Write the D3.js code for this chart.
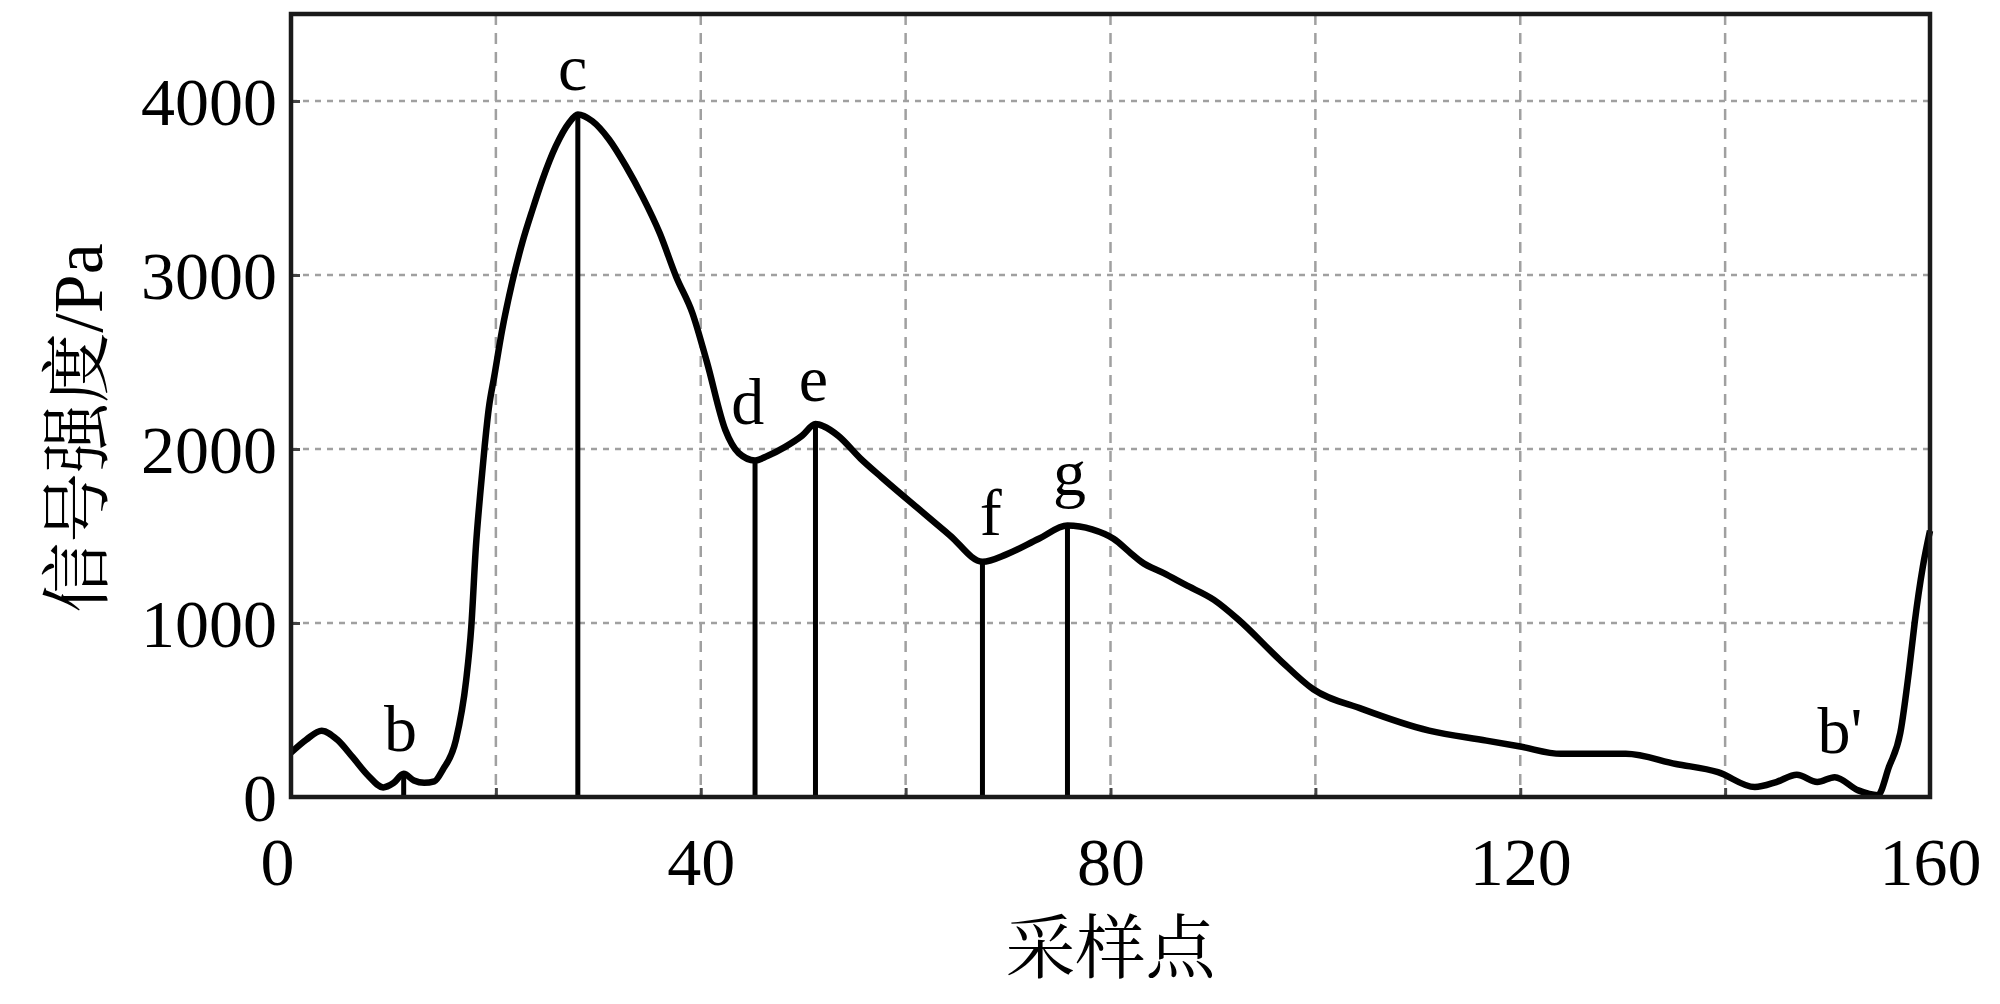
<!DOCTYPE html>
<html>
<head>
<meta charset="utf-8">
<script src="https://cdn.jsdelivr.net/npm/d3@7"></script>
<style>
body { margin: 0; background: #fff; }
svg { display: block; }
</style>
</head>
<body>
<script>
// sampling point index and signal strength (Pa)
const sampleX = [0, 1.5, 3, 4.5, 6, 7.5, 9, 10, 11, 12, 13, 14, 14.8, 16.1, 17.1, 17.6, 18.05, 18.5, 18.9, 19.3, 19.85,
    20.6, 21.6, 22.6, 23.6, 24.55, 25.85, 27.15, 28, 29.4, 31.05, 32.7, 34.3, 36, 37.6, 39.2, 40.6, 42.4, 43.7, 45.3,
    46.5, 48.2, 49.9, 51.2, 52, 53.4, 55.6, 57.7, 61.2, 64.3, 67.5, 69.9, 73, 75.8, 78.2, 80.3, 82, 83, 85.2, 87.3,
    90.1, 92.5, 96.5, 99.8, 104.6, 111.1, 116.7, 120, 124, 130.3, 135.2, 139.3, 142.9, 145, 147, 149,
    150.7, 153, 154.9, 156, 157.1, 158, 158.5, 159.3, 160];
const signal = [255, 330, 381, 330, 230, 125, 55, 80, 133, 95, 82, 90, 155, 328, 672, 979, 1439, 1760, 2013, 2230, 2420,
    2680, 2960, 3190, 3380, 3548, 3740, 3875, 3923, 3885, 3779, 3625, 3452, 3240, 2990, 2779, 2500, 2109, 1977, 1934,
    1960, 2011, 2077, 2143, 2130, 2077, 1945, 1835, 1659, 1505, 1352, 1396, 1484, 1560, 1538, 1484, 1400, 1352, 1286, 1220,
    1133, 1019, 790, 619, 505, 381, 324, 290, 248, 248, 190, 143, 57, 86, 128, 86,
    114, 38, 10, 174, 368, 749, 1000, 1323, 1530];

// marked points (vertical drop lines)
const markX = [11, 28, 45.3, 51.2, 67.5, 75.8];

// letter labels
const labelText = ["b", "c", "d", "e", "f", "g", "b'"];
const labelX = [10.7, 27.5, 44.6, 51.0, 68.3, 76.0, 151.2];
const labelY = [262, 4066, 2143, 2275, 1505, 1736, 255];

const xTicks = [0, 40, 80, 120, 160];
const yTicks = [0, 1000, 2000, 3000, 4000];
const xGrid = [20, 40, 60, 80, 100, 120, 140];
const yGrid = [1000, 2000, 3000, 4000];

const width = 2000;
const height = 1004;
const plotL = 291, plotR = 1930, plotT = 14, plotB = 797;
const serif = "'Liberation Serif', 'Times New Roman', serif";
const cjk = "'Liberation Serif', 'Noto Serif CJK SC', 'Noto Sans CJK SC', serif";

const svg = d3.select("body").append("svg")
    .attr("width", width)
    .attr("height", height);

const x = d3.scaleLinear().domain([0, 160]).range([plotL, plotR]);
const y = d3.scaleLinear().domain([0, 4500]).range([plotB, plotT]);

// grid
svg.append("g").selectAll("line")
    .data(xGrid)
    .enter().append("line")
    .attr("x1", d => x(d)).attr("x2", d => x(d))
    .attr("y1", plotT).attr("y2", plotB)
    .attr("stroke", "#a0a0a0")
    .attr("stroke-width", 2.5)
    .attr("stroke-dasharray", "11,8");

svg.append("g").selectAll("line")
    .data(yGrid)
    .enter().append("line")
    .attr("x1", plotL).attr("x2", plotR)
    .attr("y1", d => y(d)).attr("y2", d => y(d))
    .attr("stroke", "#a0a0a0")
    .attr("stroke-width", 2.5)
    .attr("stroke-dasharray", "6,6");

// axes with inward ticks (ticks every 20, labels every 40)
const xAxis = svg.append("g")
    .attr("transform", `translate(0,${plotB})`)
    .call(d3.axisBottom(x).tickValues([0].concat(xGrid, [160]))
        .tickFormat(d => xTicks.includes(d) ? d3.format("d")(d) : "")
        .tickSizeInner(-9).tickSizeOuter(0).tickPadding(40));
const yAxis = svg.append("g")
    .attr("transform", `translate(${plotL},0)`)
    .call(d3.axisLeft(y).tickValues(yTicks).tickFormat(d3.format("d"))
        .tickSizeInner(-9).tickSizeOuter(0).tickPadding(14));

[xAxis, yAxis].forEach(a => {
    a.select(".domain").remove();
    a.selectAll(".tick line").attr("stroke", "#444").attr("stroke-width", 3);
    a.selectAll(".tick text")
        .attr("fill", "#000")
        .style("font-family", serif)
        .style("font-size", "68px");
});
xAxis.selectAll(".tick text").attr("dy", "0.71em")
    .attr("dx", d => d === 0 ? -14 : 0);
yAxis.selectAll(".tick text").attr("dy", "0.34em");

// drop lines
const valueAt = v => signal[sampleX.indexOf(v)];
svg.append("g").selectAll("line")
    .data(markX)
    .enter().append("line")
    .attr("x1", d => x(d)).attr("x2", d => x(d))
    .attr("y1", d => y(valueAt(d))).attr("y2", plotB)
    .attr("stroke", "#000")
    .attr("stroke-width", 5);

// signal curve
const line = d3.line()
    .x((d, i) => x(sampleX[i]))
    .y(d => y(d))
    .curve(d3.curveMonotoneX);

svg.append("path")
    .datum(signal)
    .attr("d", line)
    .attr("fill", "none")
    .attr("stroke", "#000")
    .attr("stroke-width", 6.5)
    .attr("stroke-linejoin", "round");

// frame
svg.append("rect")
    .attr("x", plotL).attr("y", plotT)
    .attr("width", plotR - plotL).attr("height", plotB - plotT)
    .attr("fill", "none")
    .attr("stroke", "#1a1a1a")
    .attr("stroke-width", 4.5);

// letter labels
svg.append("g").selectAll("text")
    .data(labelText)
    .enter().append("text")
    .attr("x", (d, i) => x(labelX[i]))
    .attr("y", (d, i) => y(labelY[i]))
    .attr("text-anchor", "middle")
    .style("font-family", serif)
    .style("font-size", "66px")
    .text(d => d);

// axis titles
svg.append("text")
    .attr("x", (plotL + plotR) / 2)
    .attr("y", 973)
    .attr("text-anchor", "middle")
    .style("font-family", cjk)
    .style("font-size", "70px")
    .text("采样点");

svg.append("text")
    .attr("transform", "translate(102,428) rotate(-90)")
    .attr("text-anchor", "middle")
    .style("font-family", cjk)
    .style("font-size", "70px")
    .text("信号强度/Pa");
</script>
</body>
</html>
